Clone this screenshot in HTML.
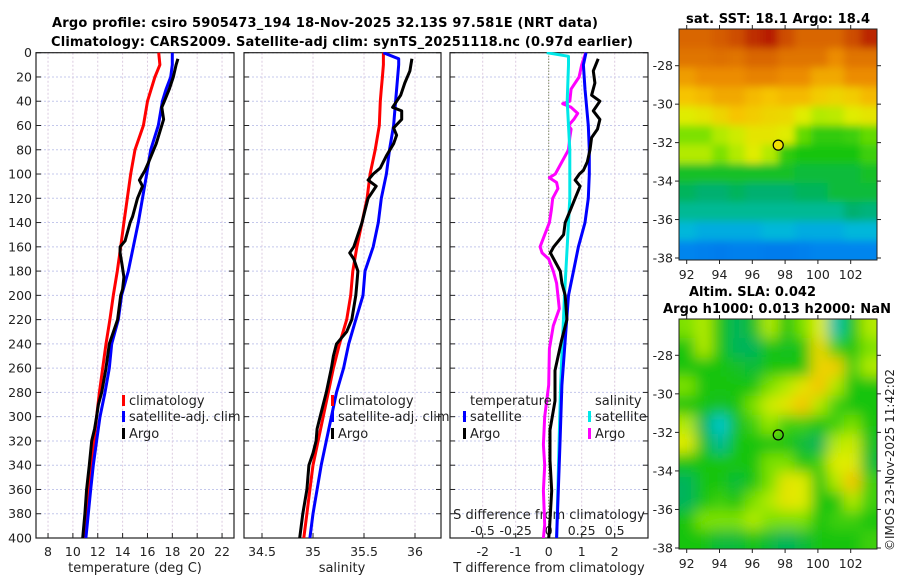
<!DOCTYPE html>
<html><head><meta charset="utf-8"><style>
html,body{margin:0;padding:0;background:#fff}
svg{display:block;font-family:"DejaVu Sans","Liberation Sans",sans-serif}
</style></head><body>
<svg id="fig" width="900" height="580" viewBox="0 0 900 580">
<defs>
<filter id="blurSST" x="0" y="0" width="1" height="1"><feGaussianBlur stdDeviation="4"/></filter>
<filter id="blurSLA" x="0" y="0" width="1" height="1"><feGaussianBlur stdDeviation="7"/></filter>
<clipPath id="clipSST"><rect x="679" y="29" width="198" height="231"/></clipPath>
<clipPath id="clipSLA"><rect x="679" y="319" width="198" height="230"/></clipPath>
<clipPath id="clipP1"><rect x="36" y="52" width="198" height="486"/></clipPath>
<clipPath id="clipP2"><rect x="244" y="52" width="197" height="486"/></clipPath>
<clipPath id="clipP3"><rect x="450" y="52" width="198" height="486"/></clipPath>
</defs>
<text x="325" y="27" font-size="13" font-weight="bold" text-anchor="middle" textLength="546">Argo profile: csiro 5905473_194 18-Nov-2025 32.13S 97.581E (NRT data)</text>
<text x="342" y="46" font-size="13" font-weight="bold" text-anchor="middle" textLength="582">Climatology: CARS2009. Satellite-adj clim: synTS_20251118.nc (0.97d earlier)</text>
<text x="778" y="23" font-size="13" font-weight="bold" text-anchor="middle" textLength="184">sat. SST: 18.1 Argo: 18.4</text>
<text x="689" y="296" font-size="13" font-weight="bold" textLength="127">Altim. SLA: 0.042</text>
<text x="777" y="313" font-size="13" font-weight="bold" text-anchor="middle" textLength="228">Argo h1000: 0.013 h2000: NaN</text>
<text transform="translate(894,460) rotate(-90)" font-size="12" text-anchor="middle" fill="#222">©IMOS 23-Nov-2025 11:42:02</text>
<g id="g"></g>
</svg>
<script>
// ---------- data ----------
const depthTicks = [0,20,40,60,80,100,120,140,160,180,200,220,240,260,280,300,320,340,360,380,400];
const tempTicks = [8,10,12,14,16,18,20,22];
const salTicks = [34.5,35,35.5,36];
const tdiffTicks = [-2,-1,0,1,2];
const sdiffTicks = [-0.5,-0.25,0,0.25,0.5];
const sdiffTickLabels = ["-0.5","-0.25","0","0.25","0.5"];

const climDepth = [0,10,20,30,40,60,80,100,120,140,160,180,200,220,240,260,280,300,320,340,360,380,400];
const tClim = [16.9,17.0,16.6,16.3,16.0,15.67,15.0,14.65,14.38,14.1,13.85,13.57,13.25,12.98,12.66,12.4,12.13,11.91,11.7,11.46,11.24,11.05,10.84];
const tSat = [18.0,18.0,17.87,17.5,17.2,16.87,16.26,15.94,15.6,15.26,14.86,14.46,13.92,13.65,13.12,12.93,12.58,12.18,11.91,11.64,11.43,11.24,11.05];
const sClim = [35.69,35.69,35.68,35.67,35.66,35.65,35.61,35.56,35.53,35.48,35.43,35.39,35.37,35.33,35.26,35.2,35.15,35.1,35.05,35.0,34.97,34.94,34.91];
const satSDepth = [0,5,10,40,60,80,100,120,140,160,180,200,220,240,260,280,300,320,340,360,380,400];
const sSat = [35.69,35.84,35.84,35.81,35.79,35.75,35.72,35.67,35.64,35.59,35.51,35.49,35.42,35.35,35.3,35.23,35.18,35.13,35.08,35.04,35.0,34.97];

const argoTDepth = [5,10,20,30,40,45,55,65,75,90,97,105,110,120,135,140,155,160,165,175,185,195,200,220,240,260,280,290,300,310,320,340,360,380,400];
const tArgo = [18.45,18.3,18.08,17.76,17.36,17.15,17.3,17.0,16.7,16.1,15.8,15.35,15.6,15.2,14.8,14.6,14.2,13.8,13.8,13.96,14.1,14.0,13.85,13.6,12.93,12.66,12.32,12.05,11.91,11.75,11.51,11.32,11.1,10.97,10.79];
const argoSDepth = [5,15,25,35,45,48,55,62,68,75,85,95,100,105,110,120,130,140,150,160,165,170,180,190,200,210,220,230,240,250,260,280,290,300,310,320,330,340,360,380,400];
const sArgo = [35.97,35.95,35.9,35.86,35.78,35.87,35.87,35.79,35.82,35.79,35.72,35.66,35.59,35.54,35.62,35.54,35.51,35.48,35.44,35.4,35.36,35.4,35.44,35.43,35.42,35.4,35.38,35.33,35.23,35.2,35.18,35.13,35.1,35.07,35.04,35.03,35.0,34.96,34.94,34.9,34.87];

const tdArgoDepth = [5,15,25,35,40,48,55,63,70,80,90,97,100,105,110,120,130,140,150,160,165,170,180,190,200,220,237,262,287,311,336,361,394,400];
const tdArgo = [1.5,1.35,1.4,1.3,1.55,1.35,1.55,1.48,1.3,1.25,1.17,1.05,0.93,0.8,0.95,0.8,0.65,0.5,0.45,0.15,0.05,0.15,0.35,0.4,0.5,0.55,0.39,0.19,0.19,0.04,0.04,0.09,0.02,0.0];
const tdSatDepth = [0,10,30,60,80,100,120,140,160,180,200,237,274,324,361,400];
const tdSat = [1.13,1.05,1.1,1.2,1.23,1.23,1.2,1.1,0.9,0.75,0.6,0.5,0.4,0.34,0.29,0.24];
const sdSatDepth = [0,3,10,40,80,120,160,200,274,400];
const sdSat = [-0.015,0.15,0.15,0.14,0.16,0.16,0.14,0.12,0.09,0.06];
const sdArgoDepth = [0,10,20,30,40,42,45,50,55,60,63,70,80,90,100,103,107,112,120,130,140,150,160,165,170,180,190,200,211,225,244,274,300,323,340,361,389,400];
const sdArgo = [0.28,0.25,0.23,0.17,0.16,0.106,0.17,0.22,0.19,0.15,0.17,0.16,0.15,0.1,0.05,0.005,0.06,0.07,0.03,0.02,0.005,-0.03,-0.065,-0.05,0,0.035,0.06,0.07,0.08,0.035,0.005,0,-0.03,-0.04,-0.03,-0.04,-0.03,-0.04];

const mapLonTicks = [92,94,96,98,100,102];
const mapLatTicks = [-28,-30,-32,-34,-36,-38];
const argoLon = 97.581, argoLat = -32.13;
const sstGrid = [
[.88,.88,.9,.92,.96,.98,.92,.88,.88,.88,.92,.97],
[.85,.85,.86,.85,.88,.88,.85,.85,.85,.8,.85,.85],
[.77,.8,.8,.8,.82,.82,.8,.8,.75,.75,.8,.8],
[.7,.72,.75,.75,.72,.7,.72,.72,.68,.66,.68,.72],
[.6,.62,.66,.7,.68,.66,.65,.6,.55,.56,.6,.62],
[.5,.5,.55,.58,.62,.62,.6,.48,.44,.44,.45,.48],
[.55,.55,.5,.55,.6,.55,.44,.42,.42,.42,.42,.45],
[.4,.4,.4,.4,.4,.4,.4,.38,.38,.38,.38,.4],
[.35,.33,.33,.35,.33,.33,.33,.35,.35,.38,.38,.38],
[.3,.3,.3,.3,.3,.3,.3,.3,.3,.3,.33,.32],
[.22,.2,.2,.2,.2,.22,.22,.2,.2,.2,.22,.22],
[.13,.12,.11,.12,.12,.11,.11,.12,.13,.13,.13,.13]];
const slaGrid = [
[.5,.55,.42,.35,.4,.55,.42,.5,.6,.28,.42,.55],
[.42,.55,.42,.35,.35,.42,.4,.42,.65,.45,.42,.5],
[.42,.42,.42,.4,.38,.42,.42,.42,.66,.68,.45,.55],
[.5,.42,.42,.42,.42,.5,.55,.62,.7,.55,.42,.42],
[.42,.42,.4,.42,.5,.58,.62,.7,.55,.45,.42,.42],
[.55,.35,.25,.4,.45,.52,.45,.45,.42,.45,.5,.42],
[.6,.4,.3,.42,.42,.42,.42,.38,.35,.55,.58,.4],
[.42,.42,.42,.42,.42,.5,.5,.42,.45,.6,.6,.38],
[.35,.42,.42,.38,.42,.5,.62,.6,.42,.55,.7,.45],
[.35,.42,.45,.42,.5,.55,.62,.6,.42,.42,.55,.45],
[.42,.5,.5,.5,.55,.5,.5,.5,.42,.45,.45,.42],
[.42,.42,.38,.38,.42,.38,.35,.38,.42,.42,.42,.45]];

// ---------- helpers ----------
const NS = "http://www.w3.org/2000/svg";
const root = document.getElementById("g");
function mk(tag, attrs, parent){ const e=document.createElementNS(NS,tag); for(const k in attrs) e.setAttribute(k,attrs[k]); (parent||root).appendChild(e); return e; }
const Y0=52.7, Y1=538;
function yD(d){ return Y0 + d*(Y1-Y0)/400; }
function xT(t){ return 35.6 + (t-7)*12.43; }
function xS(s){ return 313 + (s-35)*102; }
function xTD(v){ return 548.7 + v*33; }
function xSD(v){ return 548.7 + v*132; }
const panels = [{l:36,r:234,name:"temperature-panel"},{l:244,r:441,name:"salinity-panel"},{l:450,r:648,name:"difference-panel"}];

panels.forEach((p,pi)=>{
  const gp = mk("g",{});
  
  
  depthTicks.forEach(d=>{
    const y=yD(d);
    const ln=mk("line",{x1:p.l,x2:p.r,y1:y,y2:y,stroke:"#c4c8ec","stroke-width":1,"stroke-dasharray":"2,2"},gp);
    
    
    const t1=mk("line",{x1:p.l,x2:p.l+5,y1:y,y2:y,stroke:"#222"},gp);
    
    
    const t2=mk("line",{x1:p.r-5,x2:p.r,y1:y,y2:y,stroke:"#222"},gp);
    
    
  });
  let ticks, fx, labels;
  if(pi===0){ticks=tempTicks; fx=xT; labels=tempTicks.map(String);}
  else if(pi===1){ticks=salTicks; fx=xS; labels=salTicks.map(String);}
  else {ticks=tdiffTicks; fx=xTD; labels=tdiffTicks.map(String);}
  ticks.forEach((t,i)=>{
    const x=fx(t);
    const ln=mk("line",{x1:x,x2:x,y1:Y0,y2:Y1,stroke:"#dccbe0","stroke-width":1,"stroke-dasharray":"2,2"},gp);
    
    
    const tk=mk("line",{x1:x,x2:x,y1:Y1,y2:Y1-5,stroke:"#222"},gp);
    
    
    const tl=mk("text",{x:x,y:556,"font-size":12.5,"text-anchor":"middle",fill:"#222"},gp);
    tl.textContent=labels[i];
    
    
  });
  const fr=mk("rect",{x:p.l,y:Y0,width:p.r-p.l,height:Y1-Y0,fill:"none",stroke:"#222","stroke-width":1.2},gp);
  
  
});
depthTicks.forEach(d=>{
  const tl=mk("text",{x:32,y:yD(d)+4.5,"font-size":12.5,"text-anchor":"end",fill:"#222"});
  tl.textContent=String(d);
  
  
});
[["temperature (deg C)",135],["salinity",342],["T difference from climatology",549]].forEach(a=>{
  const t=mk("text",{x:a[1],y:572,"font-size":13,"text-anchor":"middle",fill:"#222"});
  t.textContent=a[0];
  
  
});
const z=mk("line",{x1:xTD(0),x2:xTD(0),y1:Y0,y2:Y1,stroke:"#556b2f","stroke-width":1,"stroke-dasharray":"1,2"});


sdiffTicks.forEach((s,i)=>{
  const t=mk("text",{x:xSD(s),y:535,"font-size":12.5,"text-anchor":"middle",fill:"#222"});
  t.textContent=sdiffTickLabels[i];
  
  
});
const sdt=mk("text",{x:549,y:519,"font-size":13,"text-anchor":"middle",fill:"#222"});
sdt.textContent="S difference from climatology";



function curve(depths, vals, fx, color, clip, name){
  const pts = depths.map((d,i)=>fx(vals[i]).toFixed(1)+","+yD(d).toFixed(1)).join(" ");
  const pl=mk("polyline",{points:pts,fill:"none",stroke:color,"stroke-width":3,"stroke-linejoin":"round","clip-path":"url(#"+clip+")"});
  
  
}
curve(climDepth,tClim,xT,"#ff0000","clipP1","temp-climatology-line");
curve(climDepth,tSat,xT,"#0000ff","clipP1","temp-satellite-line");
curve(argoTDepth,tArgo,xT,"#000000","clipP1","temp-argo-line");
curve(climDepth,sClim,xS,"#ff0000","clipP2","sal-climatology-line");
curve(satSDepth,sSat,xS,"#0000ff","clipP2","sal-satellite-line");
curve(argoSDepth,sArgo,xS,"#000000","clipP2","sal-argo-line");
curve(sdArgoDepth,sdArgo,xSD,"#ff00ff","clipP3","sal-diff-argo-line");
curve(sdSatDepth,sdSat,xSD,"#00e8e8","clipP3","sal-diff-satellite-line");
curve(tdSatDepth,tdSat,xTD,"#0000ff","clipP3","temp-diff-satellite-line");
curve(tdArgoDepth,tdArgo,xTD,"#000000","clipP3","temp-diff-argo-line");

function legend(x,y,color,label,name,header){
  if(header){ const h=mk("text",{x:x,y:y,"font-size":13,fill:"#222"}); h.textContent=header;   return; }
  const m=mk("rect",{x:x-7,y:y-10,width:3,height:11,fill:color});
  
  
  const t=mk("text",{x:x,y:y,"font-size":13,fill:"#222"});
  t.textContent=label;
  
  
}
legend(129,405,"#ff0000","climatology","legend-entry-climatology");
legend(129,421,"#0000ff","satellite-adj. clim","legend-entry-satellite");
legend(129,438,"#000000","Argo","legend-entry-argo");
legend(338,405,"#ff0000","climatology","legend-entry-climatology");
legend(338,421,"#0000ff","satellite-adj. clim","legend-entry-satellite");
legend(338,438,"#000000","Argo","legend-entry-argo");
legend(470,405,null,null,null,"temperature");
legend(470,421,"#0000ff","satellite","legend-entry-temp-satellite");
legend(470,438,"#000000","Argo","legend-entry-temp-argo");
legend(595,405,null,null,null,"salinity");
legend(595,421,"#00e8e8","satellite","legend-entry-sal-satellite");
legend(595,438,"#ff00ff","Argo","legend-entry-sal-argo");

// ---------- maps ----------
const cmapStops=[[0,[0,64,224]],[0.15,[0,144,240]],[0.25,[0,200,208]],[0.33,[0,176,112]],[0.42,[24,196,16]],[0.52,[150,232,0]],[0.6,[224,236,0]],[0.7,[246,196,0]],[0.8,[236,140,0]],[0.9,[212,92,0]],[1,[176,16,0]]];
function cmap(v){
  for(let i=1;i<cmapStops.length;i++){ if(v<=cmapStops[i][0]){ const a=cmapStops[i-1],b=cmapStops[i]; const f=(v-a[0])/(b[0]-a[0]); return "rgb("+a[1].map((c,k)=>Math.round(c+(b[1][k]-c)*f)).join(",")+")"; } }
  return "rgb(176,16,0)";
}
function drawMap(grid, top, height, clip, name, filt){
  const left=679, width=198;
  const gm=mk("g",{"clip-path":"url(#"+clip+")"});
  
  
  const bg=mk("rect",{x:left,y:top,width:width,height:height,fill:cmap(grid[5][5])},gm);
  
  
  const inner=mk("g",{filter:"url(#"+filt+")"},gm);
  const rows=grid.length, cols=grid[0].length, cw=width/cols, ch=height/rows;
  const pad=mk("rect",{x:left-20,y:top-20,width:width+40,height:height+40,fill:cmap(grid[5][5])},inner);
  
  
  for(let r=-1;r<=rows;r++) for(let c=-1;c<=cols;c++){
    const rr=Math.min(rows-1,Math.max(0,r)), cc=Math.min(cols-1,Math.max(0,c));
    const cell=mk("rect",{x:left+c*cw,y:top+r*ch,width:cw+0.6,height:ch+0.6,fill:cmap(grid[rr][cc])},inner);
    
    
  }
  return gm;
}
function mapAxes(top,height,latY){
  const left=679,right=877;
  const fr=mk("rect",{x:left,y:top,width:right-left,height:height,fill:"none",stroke:"#222","stroke-width":1});
  
  
  mapLonTicks.forEach(lon=>{
    const x=686.7+(lon-92)*16.4;
    const t1=mk("line",{x1:x,x2:x,y1:top+height,y2:top+height+4,stroke:"#222"});
    
    
    const t2=mk("line",{x1:x,x2:x,y1:top,y2:top-4,stroke:"#222"});
    
    
    const tl=mk("text",{x:x,y:top+height+19,"font-size":12.5,"text-anchor":"middle",fill:"#222"});
    tl.textContent=String(lon);
    
    
  });
  mapLatTicks.forEach(lat=>{
    const y=latY(lat);
    const t1=mk("line",{x1:left-4,x2:left,y1:y,y2:y,stroke:"#222"});
    
    
    const t2=mk("line",{x1:right,x2:right+4,y1:y,y2:y,stroke:"#222"});
    
    
    const tl=mk("text",{x:left-6,y:y+4.5,"font-size":12.5,"text-anchor":"end",fill:"#222"});
    tl.textContent=String(lat);
    
    
  });
}
const sstLatY = lat => 65.7 + (-28 - lat)*19.23;
const slaLatY = lat => 355.3 + (-28 - lat)*19.27;
drawMap(sstGrid,29,231,"clipSST","sst-map","blurSST");
mapAxes(29,231,sstLatY);
const m1=mk("circle",{cx:686.7+(argoLon-92)*16.4,cy:sstLatY(argoLat),r:5,fill:"#f0e000",stroke:"#000","stroke-width":1.2});


drawMap(slaGrid,319,230,"clipSLA","sla-map","blurSLA");
mapAxes(319,230,slaLatY);
const m2=mk("circle",{cx:686.7+(argoLon-92)*16.4,cy:slaLatY(argoLat),r:5,fill:"none",stroke:"#000","stroke-width":1.2});


</script>
</body></html>
